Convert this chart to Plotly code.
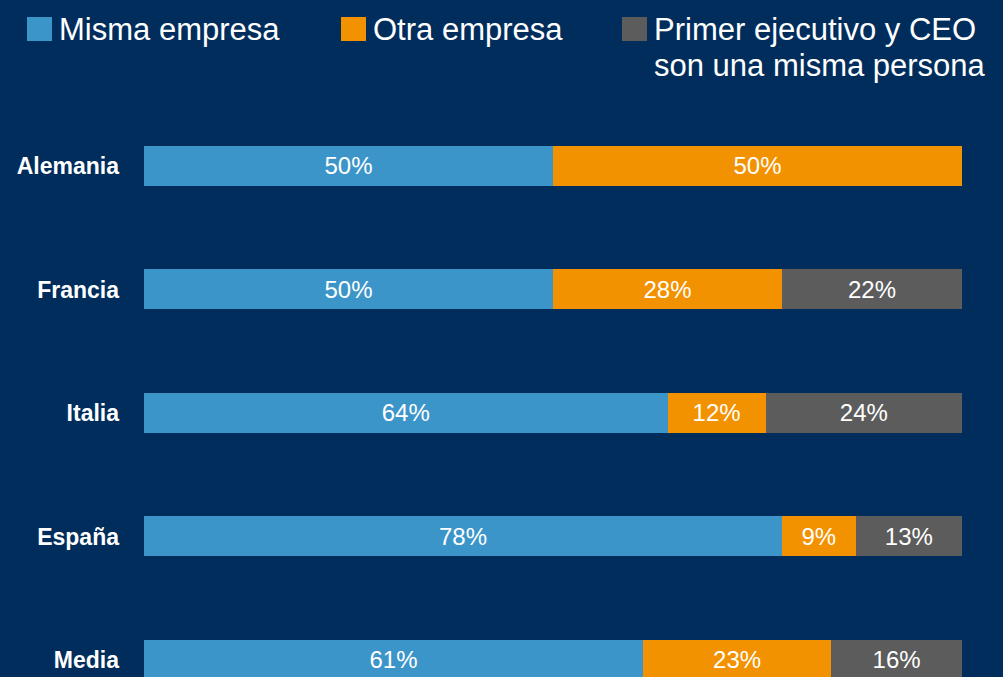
import plotly.graph_objects as go

# ----------------------------
# Data
# ----------------------------
paises = ["Alemania", "Francia", "Italia", "España", "Media"]
misma_empresa = [50, 50, 64, 78, 61]
otra_empresa = [50, 28, 12, 9, 23]
misma_persona = [0, 22, 24, 13, 16]

series_names = ["Misma empresa", "Otra empresa", "Primer ejecutivo y CEO<br>son una misma persona"]
series_colors = ["#3B95C9", "#F39200", "#5C5C5C"]
bg = "#002D5C"

W, H = 1003, 677
L, R = 144, 41


def px_x(p):
    return (p - L) / (W - L - R)


def px_y(p):
    return (H - p) / H


fig = go.Figure()

for name, vals, color in zip(series_names, [misma_empresa, otra_empresa, misma_persona], series_colors):
    fig.add_trace(
        go.Bar(
            y=paises,
            x=vals,
            orientation="h",
            name=name,
            marker=dict(color=color, line=dict(width=0)),
            width=0.324,
            text=[f"{v}%" if v > 0 else "" for v in vals],
            textposition="inside",
            insidetextanchor="middle",
            textfont=dict(color="white", size=24, family="Liberation Sans"),
            hoverinfo="skip",
        )
    )

# ----------------------------
# Custom legend (big squares)
# ----------------------------
legend_x = [27, 341, 622]
for lx, name, color in zip(legend_x, series_names, series_colors):
    fig.add_shape(
        type="rect",
        xref="paper", yref="paper",
        x0=px_x(lx), x1=px_x(lx + 25),
        y0=px_y(41), y1=px_y(17),
        fillcolor=color, line=dict(width=0),
    )
    for i, line in enumerate(name.split("<br>")):
        fig.add_annotation(
            xref="paper", yref="paper",
            x=px_x(lx + 30), y=px_y(29 + 36 * i),
            xanchor="left", yanchor="middle",
            text=line, showarrow=False, align="left",
            font=dict(color="white", size=31, family="Liberation Sans"),
        )

fig.update_layout(
    barmode="stack",
    width=W,
    height=H,
    margin=dict(l=L, r=R, t=0, b=0),
    paper_bgcolor=bg,
    plot_bgcolor=bg,
    showlegend=False,
    xaxis=dict(range=[0, 100], visible=False, fixedrange=True),
    yaxis=dict(
        range=[4.138, -1.344],
        showgrid=False,
        zeroline=False,
        showline=False,
        ticks="",
        ticklabelstandoff=24,
        tickfont=dict(color="white", size=23, family="Liberation Sans", weight="bold"),
        fixedrange=True,
    ),
)

fig.write_html(
    "out.html",
    config={"displayModeBar": False},
    post_script="document.body.style.margin='0';",
)
